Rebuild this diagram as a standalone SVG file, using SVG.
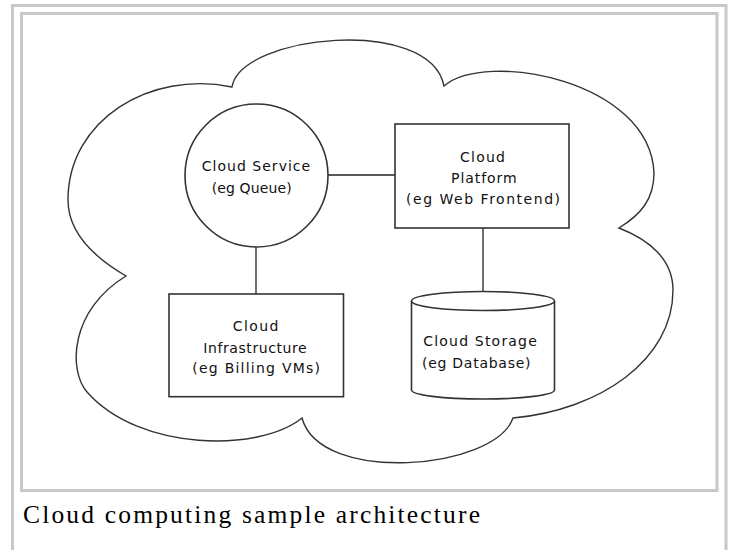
<svg xmlns="http://www.w3.org/2000/svg" width="732" height="550" viewBox="0 0 732 550">
<style>
.frame{fill:none;stroke:#c8c8c8;stroke-width:3}
.shape{fill:#fff;stroke:#333;stroke-width:1.6}
.cloud{fill:#fff;stroke:#333;stroke-width:1.4}
.conn{fill:none;stroke:#222;stroke-width:1.3}
.lbl{font-family:"DejaVu Sans","Liberation Sans",sans-serif;font-size:14px;fill:#111}
.cap{font-family:"Liberation Serif","Times New Roman",serif;font-size:25.5px;fill:#000}
</style>
<rect x="0" y="0" width="732" height="550" fill="#fff"/>
<g id="frame">
<path class="frame" d="M12.5,550 V5.5 H726 V550"/>
<rect class="frame" x="21.5" y="13.5" width="695.5" height="477"/>
</g>
<g id="cloud">
<path class="cloud" d="M126,276 C90,255 68,230 68,200 C68,120 150,70 232,87 C240,35 430,15 444,86 C485,50 650,80 654,173 C654,200 640,215 619,228 C650,240 673,260 673,290 C673,360 600,410 513,418 C495,470 320,485 302,418 C260,452 140,452 87,392 C68,370 70,310 126,276 Z"/>
</g>
<g id="connectors">
<line class="conn" x1="328" y1="175" x2="395" y2="175"/>
<line class="conn" x1="256" y1="247" x2="256" y2="294"/>
<line class="conn" x1="483" y1="228" x2="483" y2="292"/>
</g>
<g id="cloud-service">
<circle class="shape" cx="256.5" cy="175.5" r="71.5"/>
<text class="lbl" x="201.7" y="170.7" textLength="108.5" lengthAdjust="spacing">Cloud Service</text>
<text class="lbl" x="211.7" y="193.3" textLength="80" lengthAdjust="spacing">(eg Queue)</text>
</g>
<g id="cloud-platform">
<rect class="shape" x="395" y="124" width="174" height="104"/>
<text class="lbl" x="460" y="161.7" textLength="45" lengthAdjust="spacing">Cloud</text>
<text class="lbl" x="451" y="183.3" textLength="65.7" lengthAdjust="spacing">Platform</text>
<text class="lbl" x="406" y="204" textLength="154" lengthAdjust="spacing">(eg Web Frontend)</text>
</g>
<g id="cloud-infrastructure">
<rect class="shape" x="169" y="294" width="174.5" height="102.7"/>
<text class="lbl" x="232.7" y="330.7" textLength="45.7" lengthAdjust="spacing">Cloud</text>
<text class="lbl" x="203.3" y="352.7" textLength="103.4" lengthAdjust="spacing">Infrastructure</text>
<text class="lbl" x="192.3" y="372.7" textLength="127.7" lengthAdjust="spacing">(eg Billing VMs)</text>
</g>
<g id="cloud-storage">
<path class="shape" d="M411.5,301 V390 A71.5,9 0 0 0 554.5,390 V301"/>
<ellipse class="shape" cx="483" cy="301" rx="71.5" ry="9.5"/>
<text class="lbl" x="423.3" y="345.5" textLength="113.5" lengthAdjust="spacing">Cloud Storage</text>
<text class="lbl" x="422" y="368" textLength="108.5" lengthAdjust="spacing">(eg Database)</text>
</g>
<g id="caption">
<text class="cap" x="23" y="523" textLength="457" lengthAdjust="spacing">Cloud computing sample architecture</text>
</g>
</svg>
